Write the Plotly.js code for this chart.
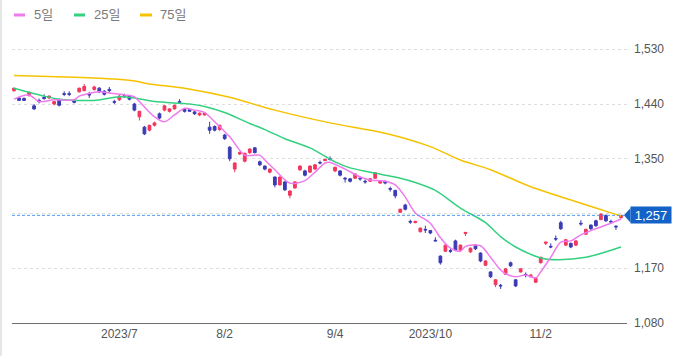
<!DOCTYPE html>
<html><head><meta charset="utf-8">
<script src="https://cdn.plot.ly/plotly-3.0.1.min.js"></script>
<style>
html,body{margin:0;padding:0;background:#fff;}
#wrap{position:relative;width:685px;height:356px;}
#chart{width:685px;height:356px;}
#edge{position:absolute;left:0;top:0;width:2px;height:356px;background:#e6e6e6;}
</style>
</head><body>
<div id="wrap"><div id="chart"></div><div id="edge"></div></div>
<script>
// Trading days (categories)
const dates = [
"2023-06-02","2023-06-05","2023-06-06","2023-06-07","2023-06-08","2023-06-09","2023-06-12","2023-06-13","2023-06-14","2023-06-15","2023-06-16",
"2023-06-19","2023-06-20","2023-06-21","2023-06-22","2023-06-23","2023-06-26","2023-06-27","2023-06-28","2023-06-29","2023-06-30",
"2023-07-03","2023-07-04","2023-07-05","2023-07-06","2023-07-07","2023-07-10","2023-07-11","2023-07-12","2023-07-13","2023-07-14",
"2023-07-18","2023-07-19","2023-07-20","2023-07-21","2023-07-24","2023-07-25","2023-07-26","2023-07-27","2023-07-28","2023-07-31",
"2023-08-01","2023-08-02","2023-08-03","2023-08-04","2023-08-07","2023-08-08","2023-08-09","2023-08-10","2023-08-14","2023-08-15",
"2023-08-16","2023-08-17","2023-08-18","2023-08-21","2023-08-22","2023-08-23","2023-08-24","2023-08-25","2023-08-28","2023-08-29",
"2023-08-30","2023-08-31","2023-09-01","2023-09-04","2023-09-05","2023-09-06","2023-09-07","2023-09-08","2023-09-11","2023-09-12",
"2023-09-13","2023-09-14","2023-09-15","2023-09-19","2023-09-20","2023-09-21","2023-09-22","2023-09-25","2023-09-26","2023-09-27",
"2023-09-28","2023-09-29","2023-10-02","2023-10-03","2023-10-04","2023-10-05","2023-10-06","2023-10-10","2023-10-11","2023-10-12",
"2023-10-13","2023-10-16","2023-10-17","2023-10-18","2023-10-19","2023-10-20","2023-10-23","2023-10-24","2023-10-25","2023-10-26",
"2023-10-27","2023-10-30","2023-10-31","2023-11-01","2023-11-02","2023-11-06","2023-11-07","2023-11-08","2023-11-09","2023-11-10",
"2023-11-13","2023-11-14","2023-11-15","2023-11-16","2023-11-17","2023-11-20","2023-11-21","2023-11-22","2023-11-24","2023-11-27","2023-11-28"
];
const openP = [1462,1450,1449,1454,1437,1446,1451,1450,1440,1447,1457,1457,1445,1460,1462,1456,1464,1466,1461,1464,
1444,1447,1454,1453,1440,1419,1402,1397,1405,1424,1430,1428,1432,1444,1431,1431,1427,1422,1422,1402,
1403,1398,1389,1369,1333,1358,1346,1360,1368,1345,1338,1328,1320,1307,1312,1290,1302,1332,1330,1328,
1333,1344,1347,1350,1330,1330,1318,1317,1318,1318,1313,1313,1318,1310,1313,1301,1298,1262,1274,1247,
1245,1230,1234,1232,1216,1190,1198,1199,1215,1200,1227,1197,1208,1195,1175,1164,1143,1142,1160,1179,
1151,1164,1160,1156,1147,1179,1211,1206,1219,1245,1208,1211,1208,1244,1226,1241,1248,1250,1257,1247,1239,1253];
const highP = [1467,1452,1451,1461,1440,1449,1456,1454,1445,1449,1461,1461,1447,1467,1473,1460,1470,1468,1463,1468,
1447,1455,1457,1455,1442,1429,1404,1406,1411,1426,1438,1433,1439,1448,1433,1432,1429,1426,1426,1411,
1405,1406,1391,1371,1344,1362,1360,1367,1369,1347,1339,1334,1321,1321,1313,1298,1313,1339,1332,1339,
1341,1347,1350,1354,1337,1331,1320,1318,1326,1321,1316,1318,1328,1314,1314,1304,1299,1268,1276,1250,
1248,1237,1240,1233,1221,1191,1209,1202,1217,1209,1229,1204,1209,1196,1183,1165,1152,1144,1170,1181,
1152,1170,1163,1160,1155,1189,1213,1211,1224,1248,1218,1212,1216,1249,1235,1242,1250,1260,1258,1250,1241,1258];
const lowP = [1460,1445,1445,1452,1430,1441,1447,1448,1438,1436,1453,1453,1441,1459,1461,1450,1462,1458,1454,1459,
1440,1445,1450,1446,1428,1413,1389,1395,1403,1415,1428,1426,1431,1440,1426,1427,1422,1420,1421,1391,
1395,1396,1381,1346,1328,1356,1344,1358,1359,1338,1331,1326,1303,1306,1297,1285,1301,1330,1321,1327,
1332,1341,1346,1347,1328,1321,1311,1311,1317,1314,1309,1312,1317,1309,1308,1296,1285,1261,1265,1243,
1244,1229,1228,1226,1214,1176,1197,1195,1198,1199,1223,1195,1200,1180,1174,1154,1139,1136,1159,1172,
1139,1163,1155,1155,1146,1178,1208,1203,1215,1233,1207,1203,1207,1240,1225,1233,1238,1249,1246,1244,1233,1252];
const closeP = [1466,1446,1446,1459,1432,1444,1449,1453,1444,1438,1456,1456,1443,1466,1469,1455,1468,1460,1456,1462,
1443,1453,1453,1448,1430,1428,1391,1405,1409,1417,1437,1432,1438,1443,1428,1428,1424,1425,1425,1397,
1397,1405,1383,1350,1343,1360,1359,1366,1360,1340,1333,1333,1307,1320,1299,1297,1312,1338,1323,1338,
1340,1343,1349,1349,1336,1323,1317,1313,1325,1317,1312,1317,1327,1313,1310,1300,1289,1267,1267,1246,
1247,1236,1233,1228,1215,1179,1208,1198,1200,1208,1229,1203,1202,1182,1182,1156,1151,1141,1169,1174,
1141,1169,1159,1159,1154,1188,1213,1205,1218,1235,1217,1205,1215,1243,1234,1235,1240,1259,1248,1246,1238,1257];

// Moving averages (candle index -> value)
const ma5Idx = [0,3,5,8,12,13,17,19,22,24,25,28,30,32,34,36,38,40,43,46,49,50,52,55,58,60,62,63,66,69,71,74,76,78,80,83,85,87,89,90,93,95,97,98,100,102,104,105,107,109,111,113,116,119,121];
const ma5Val = [1448,1455,1444,1447,1447,1453,1460,1458,1455,1452,1444,1419,1411,1422,1433,1430,1426,1411,1386,1356,1356,1348,1332,1310,1314,1328,1343,1344,1333,1320,1315,1313,1307,1287,1261,1244,1220,1203,1198,1206,1207,1188,1167,1161,1156,1159,1154,1164,1188,1213,1215,1225,1235,1244,1251];
const ma25Idx = [0,6,9,13,16,21,24,28,35,38,42,47,50,54,59,64,67,71,74,77,80,84,89,94,97,100,105,108,114,121];
const ma25Val = [1466,1453,1448,1446,1446,1452,1450,1444,1440,1436,1426,1408,1398,1383,1368,1345,1335,1328,1323,1318,1311,1298,1269,1245,1222,1205,1187,1184,1188,1205];
const ma75Idx = [0,12,20,24,27,34,43,52,63,74,83,89,95,103,113,119,121];
const ma75Val = [1487,1484,1481,1478,1473,1466,1451,1430,1409,1392,1370,1348,1332,1304,1277,1261,1256];

const tickDates = ["2023-07-03","2023-08-02","2023-09-04","2023-10-02","2023-11-02"];
const tickLabels = ["2023/7","8/2","9/4","2023/10","11/2"];
const yTicks = [1080,1170,1260,1350,1440,1530];
const yLabels = ["1,080","1,170","","1,350","1,440","1,530"];
const legendNames = ["5일","25일","75일"];
const lastPrice = closeP[closeP.length-1];

const RED = "#f2365c", BLUE = "#3b3bb5";
const C5 = "#ee7aee", C25 = "#33d17f", C75 = "#f6c200";
const idx = dates.map((d,i)=>i);
const FONT = "Liberation Sans, Arial, Noto Sans CJK KR, sans-serif";

const traces = [
 {type:"candlestick", x:idx, open:openP, high:highP, low:lowP, close:closeP,
  increasing:{line:{color:RED,width:1}, fillcolor:RED},
  decreasing:{line:{color:BLUE,width:1}, fillcolor:BLUE},
  whiskerwidth:0, hoverinfo:"skip", showlegend:false},
 {type:"scatter", mode:"lines", x:ma75Idx, y:ma75Val, line:{color:C75,width:1.5,shape:"spline",smoothing:0.8}, hoverinfo:"skip"},
 {type:"scatter", mode:"lines", x:ma25Idx, y:ma25Val, line:{color:C25,width:1.5,shape:"spline",smoothing:0.8}, hoverinfo:"skip"},
 {type:"scatter", mode:"lines", x:ma5Idx, y:ma5Val, line:{color:C5,width:1.5,shape:"spline",smoothing:0.8}, hoverinfo:"skip"}
];

const L = 12, R = 58, T = 30, B = 33, W = 685, H = 356;
const pw = W-L-R, ph = H-T-B;
const px2x = p => (p-L)/pw;
const py2y = p => (H-B-p)/ph;
const legendColors = [C5,C25,C75];
const legSym = [[14,25],[74,85],[140,152]];
const legTxt = [32,92,158];

const shapes = [
 {type:"line", xref:"paper", yref:"y", x0:0, x1:px2x(624), y0:lastPrice, y1:lastPrice, line:{color:"#4f98ee", width:1, dash:"3px,2px"}, layer:"above"},
 {type:"path", xref:"paper", yref:"y", path:`M ${px2x(624)},${lastPrice} L ${px2x(630.5)},${lastPrice+12} L ${px2x(630.5)},${lastPrice-12} Z`, fillcolor:"#1462c8", line:{width:0}}
];
legSym.forEach((s,k)=>shapes.push({type:"line", xref:"paper", yref:"paper", x0:px2x(s[0]), x1:px2x(s[1]), y0:py2y(15), y1:py2y(15), line:{color:legendColors[k], width:3}}));

const annotations = [
 {xref:"paper", yref:"y", x:px2x(630), y:lastPrice, xanchor:"left", yanchor:"middle", text:lastPrice.toLocaleString("en-US"), showarrow:false,
  bgcolor:"#1462c8", font:{family:FONT, size:13, color:"#fff"}, borderpad:1, width:38, height:14}
];
legendNames.forEach((n,k)=>annotations.push({xref:"paper", yref:"paper", x:px2x(legTxt[k]), y:py2y(15), xanchor:"left", yanchor:"middle", text:n, showarrow:false, font:{family:FONT, size:13, color:"#7a7a7a"}}));

const layout = {
 width:W, height:H, margin:{l:L,r:R,t:T,b:B,pad:0}, paper_bgcolor:"#fff", plot_bgcolor:"#fff", showlegend:false, boxgap:0.22,
 xaxis:{type:"linear", range:[-0.4,122.2], tickvals:tickDates.map(d=>dates.indexOf(d)), ticktext:tickLabels,
   showgrid:false, zeroline:false, showline:true, linecolor:"#6e6e6e", linewidth:1, ticks:"",
   tickfont:{family:FONT, size:12, color:"#555"}, rangeslider:{visible:false}, fixedrange:true},
 yaxis:{side:"right", range:[1080,1561.7], tickvals:yTicks, ticktext:yLabels, showgrid:true, gridcolor:"#dedede", griddash:"3px,3px",
   zeroline:false, showline:false, ticks:"", tickfont:{family:FONT, size:12, color:"#555"}, ticklabelstandoff:6, fixedrange:true},
 shapes:shapes, annotations:annotations
};
Plotly.newPlot("chart", traces, layout, {staticPlot:true, displayModeBar:false});
</script>
</body></html>
